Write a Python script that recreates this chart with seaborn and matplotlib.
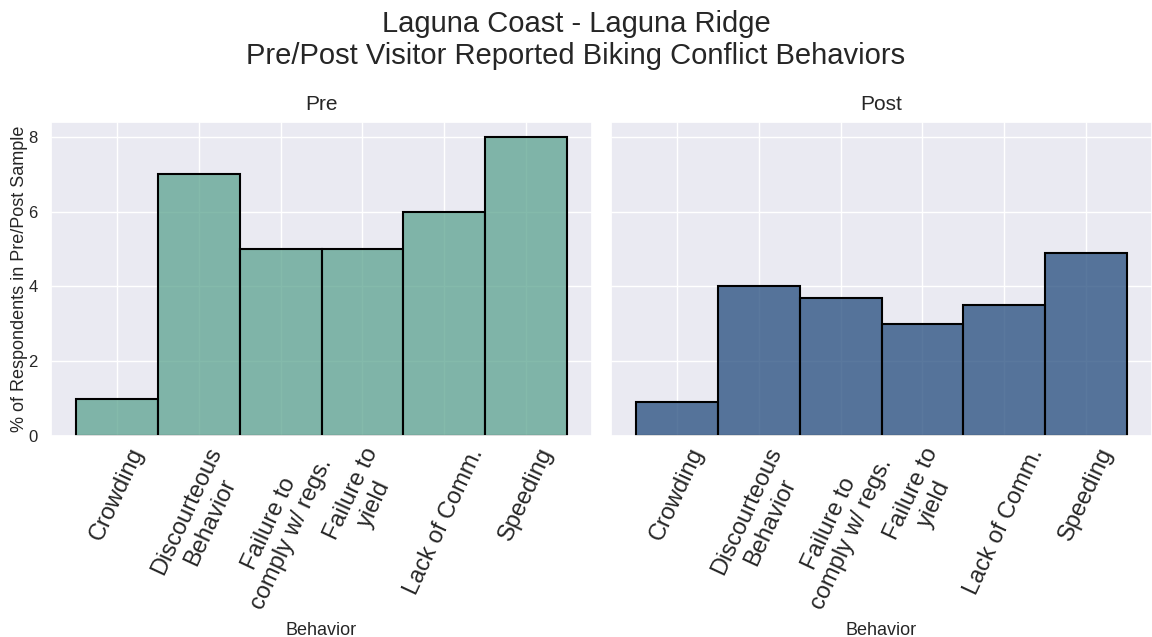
import matplotlib
matplotlib.use("Agg")
import matplotlib.pyplot as plt
import seaborn as sns
import pandas as pd

behaviors = ["Crowding", "Discourteous\nBehavior", "Failure to\ncomply w/ regs.",
             "Failure to\nyield", "Lack of Comm.", "Speeding"]
pre_values = [1.0, 7.0, 5.0, 5.0, 6.0, 8.0]
post_values = [0.9, 4.0, 3.7, 3.0, 3.5, 4.9]
panels = ["Pre", "Post"]
colors = {"Pre": "#5BA38F", "Post": "#234B7D"}

sns.set_theme(style="darkgrid")
plt.rcParams["font.family"] = ["Liberation Sans", "DejaVu Sans"]

df = pd.DataFrame({
    "Behavior": behaviors * 2,
    "value": pre_values + post_values,
    "period": ["Pre"] * len(behaviors) + ["Post"] * len(behaviors),
})

fig = plt.figure(figsize=(11.52, 6.37), dpi=100)
ax1 = fig.add_axes([51 / 1152, 1 - 436 / 637, 541 / 1152, 314 / 637])
ax2 = fig.add_axes([611 / 1152, 1 - 436 / 637, 541 / 1152, 314 / 637], sharey=ax1)

for ax, p in zip([ax1, ax2], panels):
    sub = df[df["period"] == p]
    sns.histplot(data=sub, x="Behavior", weights="value", discrete=True,
                 color=colors[p], edgecolor="black", linewidth=1.5,
                 alpha=0.75, ax=ax)
    ax.set_title(p, fontsize=15, pad=9)
    ax.set_xticks(range(len(behaviors)))
    ax.set_xticklabels(behaviors, rotation=65, fontsize=17, ha="center",
                       rotation_mode="default")
    ax.tick_params(axis="x", pad=0)
    ax.set_xlabel("Behavior", fontsize=13, labelpad=6)
    ax.tick_params(axis="y", labelsize=12)

ax1.set_ylabel("% of Respondents in Pre/Post Sample", fontsize=13, labelpad=0)
ax2.set_ylabel("")
plt.setp(ax2.get_yticklabels(), visible=False)
ax1.set_yticks([0, 2, 4, 6, 8])

fig.suptitle("Laguna Coast - Laguna Ridge\nPre/Post Visitor Reported Biking Conflict Behaviors",
             fontsize=21, y=0.985)

fig.savefig("out.png", dpi=100)
